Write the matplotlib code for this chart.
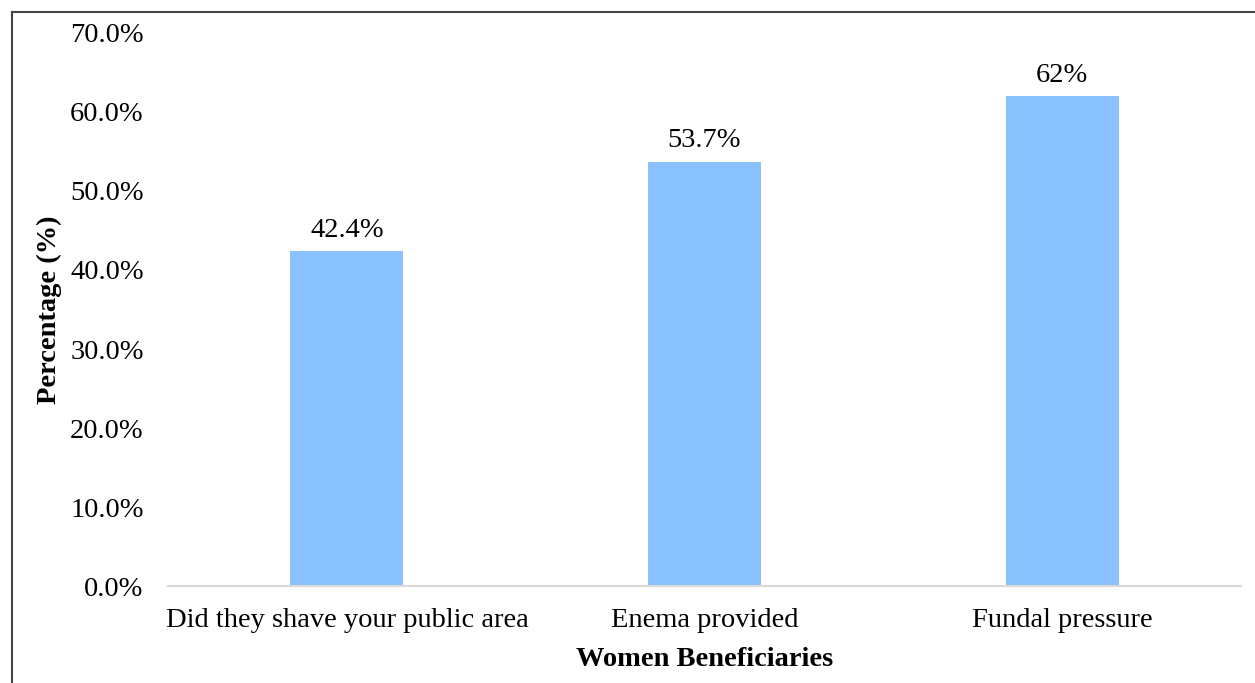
import matplotlib.pyplot as plt
from matplotlib.lines import Line2D

categories = ["Did they shave your public area", "Enema provided", "Fundal pressure"]
values = [42.4, 53.7, 62.0]
value_labels = ["42.4%", "53.7%", "62%"]
y_ticks = [0, 10, 20, 30, 40, 50, 60, 70]

plt.rcParams['font.family'] = ['Liberation Serif', 'DejaVu Serif']

fig = plt.figure(figsize=(12.55, 6.83), dpi=100)
ax = fig.add_axes([0.1339, 0.142, 0.855, 0.8097])

x = range(len(categories))
bars = ax.bar(x, values, width=0.316, color="#8ac1ff")
ax.bar_label(bars, labels=value_labels, padding=6, fontsize=20.5)

ax.set_xlim(-0.5, len(categories) - 0.5)
ax.set_ylim(0, 70)
ax.set_yticks(y_ticks)
ax.set_yticklabels([f"{t:.1f}%" for t in y_ticks])
ax.set_xticks(list(x))
ax.set_xticklabels(categories)
ax.tick_params(axis='both', length=0, labelsize=20.5)
ax.tick_params(axis='y', pad=17.5)
ax.tick_params(axis='x', pad=16)

for side in ['top', 'right', 'left']:
    ax.spines[side].set_visible(False)
ax.spines['bottom'].set_color('#d9d9d9')
ax.spines['bottom'].set_linewidth(1.5)

ax.set_ylabel("Percentage (%)", fontsize=20.5, fontweight='bold')
ax.yaxis.set_label_coords(-0.099, 0.5)
ax.set_xlabel("Women Beneficiaries", fontsize=20.5, fontweight='bold')
ax.xaxis.set_label_coords(0.5, -0.110)

# frame of the original screenshot (top and left edges visible)
fig.add_artist(Line2D([12 / 1255, 12 / 1255], [0, 1 - 12 / 683], color='#444444', lw=1.5, transform=fig.transFigure))
fig.add_artist(Line2D([12 / 1255, 1], [1 - 12 / 683, 1 - 12 / 683], color='#444444', lw=1.5, transform=fig.transFigure))

fig.savefig("out.png", dpi=100)
